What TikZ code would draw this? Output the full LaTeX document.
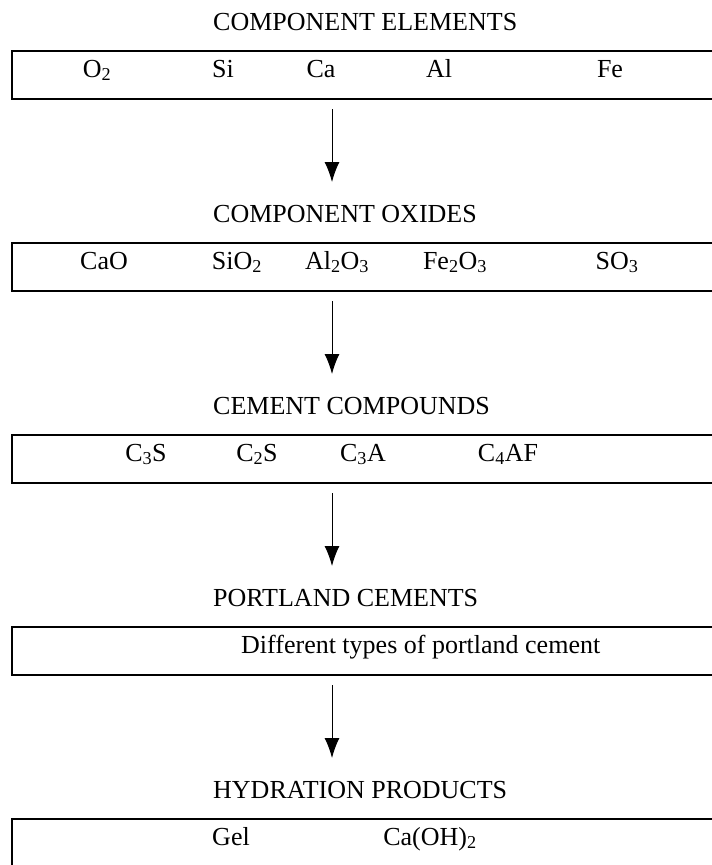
\documentclass[tikz,border=0pt]{standalone}
\usepackage{fontspec}
\setmainfont{Liberation Serif}
\usetikzlibrary{arrows.meta}

\begin{document}
\begin{tikzpicture}[x=1pt,y=1pt,>={Latex[length=20pt,width=15pt]},
        box/.style={draw,line width=2pt,outer sep=0pt,inner sep=0pt,minimum width=730pt,minimum height=48pt,anchor=north west},
        ttl/.style={anchor=base west,inner sep=0pt,font=\fontsize{26}{30}\selectfont},
        itm/.style={anchor=base,inner sep=0pt,font=\fontsize{26}{30}\selectfont}]
        \useasboundingbox (0,0) rectangle (712,-865);
        \clip (0,0) rectangle (712,-865);
        \coordinate (ax) at (332,0);
        % elements
        \node[ttl] (t1) at (213,-30.5) {COMPONENT ELEMENTS};
        \node[box] (b1) at (12,-51) {};
        \node[itm] (o2) at (97,-77) {O\textsubscript{2}};
        \node[itm] (si) at (223,-77) {Si};
        \node[itm] (ca) at (321,-77) {Ca};
        \node[itm] (al) at (439,-77) {Al};
        \node[itm] (fe) at (610,-77) {Fe};
        % oxides
        \node[ttl] (t2) at (213,-222.5) {COMPONENT OXIDES};
        \node[box] (b2) at (12,-243) {};
        \node[itm] (cao) at (104,-269) {CaO};
        \node[itm] (sio) at (237,-269) {SiO\textsubscript{2}};
        \node[itm] (alo) at (337,-269) {Al\textsubscript{2}O\textsubscript{3}};
        \node[itm] (feo) at (455,-269) {Fe\textsubscript{2}O\textsubscript{3}};
        \node[itm] (so) at (617,-269) {SO\textsubscript{3}};
        % compounds
        \node[ttl] (t3) at (213,-414.5) {CEMENT COMPOUNDS};
        \node[box] (b3) at (12,-435) {};
        \node[itm] (cts) at (146,-461) {C\textsubscript{3}S};
        \node[itm] (cds) at (257,-461) {C\textsubscript{2}S};
        \node[itm] (cta) at (363,-461) {C\textsubscript{3}A};
        \node[itm] (caf) at (508,-461) {C\textsubscript{4}AF};
        % cements
        \node[ttl] (t4) at (213,-606.5) {PORTLAND CEMENTS};
        \node[box] (b4) at (12,-627) {};
        \node[itm,anchor=base west] (typ) at (241,-653) {Different types of portland cement};
        % hydration
        \node[ttl] (t5) at (213,-798.5) {HYDRATION PRODUCTS};
        \node[box] (b5) at (12,-819) {};
        \node[itm] (gel) at (231,-845) {Gel};
        \node[itm] (cah) at (430,-845) {Ca(OH)\textsubscript{2}};
        \draw[->,line width=1pt](ax|-b1.south)++(0,-10)--([yshift=61pt]ax|-b2.north);
        \draw[->,line width=1pt](ax|-b2.south)++(0,-10)--([yshift=61pt]ax|-b3.north);
        \draw[->,line width=1pt](ax|-b3.south)++(0,-10)--([yshift=61pt]ax|-b4.north);
        \draw[->,line width=1pt](ax|-b4.south)++(0,-10)--([yshift=61pt]ax|-b5.north);
    \end{tikzpicture}
\end{document}
